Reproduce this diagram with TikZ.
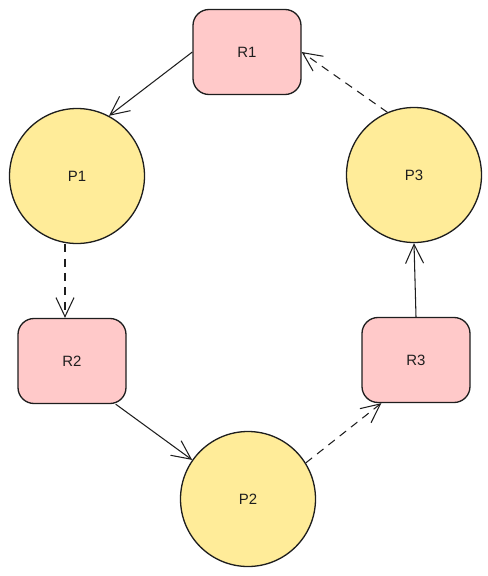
\documentclass[tikz,border=0pt]{standalone}
\usepackage{fontspec}
\setmainfont{Liberation Sans}
\usepackage{tikz}
\usetikzlibrary{calc}
\usetikzlibrary{arrows.meta}
\usetikzlibrary{positioning}
\definecolor{ink}{HTML}{1E1E1E}
\definecolor{respink}{HTML}{FFC9C9}
\definecolor{procyel}{HTML}{FFEC99}
\tikzset{R/.style={rectangle,rounded corners=0.32cm,fill=respink,draw=ink,line width=0.75pt,minimum width=2.16cm,minimum height=1.7cm,text=ink,font=\fontsize{8.5}{10}\selectfont}}
\tikzset{P/.style={circle,fill=procyel,draw=ink,line width=0.75pt,minimum size=2.7cm,text=ink,font=\fontsize{8.5}{10}\selectfont}}
\tikzset{
hold/.style={draw=ink,line width=0.6pt,-{Straight Barb[length=0.38cm,width=0.36cm]}},
req/.style={hold,dash pattern=on 4.6pt off 3.6pt}
}

\begin{document}
\begin{tikzpicture}

\useasboundingbox (0,0) rectangle (9.76,-11.52);

\node[R] (R1) at (4.94, -1.04) {R1};
\node[R] (R2) at (1.44, -7.22) {R2};
\node[R] (R3) at (8.32, -7.20) {R3};

\node[P] (P1) at (1.54, -3.52) {P1};
\node[P] (P2) at (4.96, -9.98) {P2};
\node[P] (P3) at (8.28, -3.50) {P3};

% held by
\draw[hold] (R1.west) -- (P1.62);
\draw[hold] ([xshift=-0.22cm]R2.south east) -- (P2.145);
\draw[hold] (R3.north) -- (P3.south);

% waiting for
\coordinate (p1out) at ([xshift=-0.24cm]P1.south);
\draw[req] (p1out) -- (p1out |- R2.north);
\draw[req] (P2.32) -- ([xshift=0.4cm]R3.south west);
\draw[req] (P3.113) -- (R1.east);

\end{tikzpicture}
\end{document}
